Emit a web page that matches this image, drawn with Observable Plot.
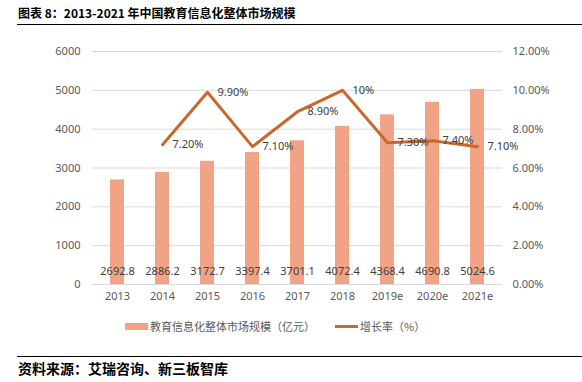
<!DOCTYPE html>
<html>
<head>
<meta charset="utf-8">
<script src="https://cdn.jsdelivr.net/npm/d3@7"></script>
<script src="https://cdn.jsdelivr.net/npm/@observablehq/plot@0.6"></script>
<style>
  body { margin: 0; background: #fff; width: 582px; height: 382px; overflow: hidden; position: relative; font-family: "Noto Sans CJK SC", "Noto Sans", sans-serif; }
  #title { position: absolute; left: 18px; top: 4px; font-size: 12px; font-weight: bold; color: #000; white-space: nowrap; }
  #rule1 { position: absolute; left: 17px; top: 24px; width: 565px; height: 0; border-top: 1.5px solid #000; }
  #chart { position: absolute; left: 0; top: 30px; }
  #legend { position: absolute; left: 0; top: 318px; width: 582px; font-size: 11px; color: #595959; }
  .sw { position: absolute; }
  .lt { position: absolute; white-space: nowrap; top: 0; }
  #rule2 { position: absolute; left: 17px; top: 356px; width: 565px; height: 0; border-top: 1.5px solid #000; }
  #source { position: absolute; left: 18px; top: 358px; font-size: 14px; font-weight: bold; color: #000; white-space: nowrap; }
</style>
</head>
<body>
<div id="title">图表 8：2013-2021 年中国教育信息化整体市场规模</div>
<div id="rule1"></div>
<div id="chart"></div>
<div id="legend">
  <div class="sw" style="left:125px; top:5px; width:23px; height:7px; background:#F0A385;"></div>
  <div class="lt" style="left:150px;">教育信息化整体市场规模（亿元）</div>
  <div class="sw" style="left:335px; top:7px; width:23px; height:3px; background:#C8682C;"></div>
  <div class="lt" style="left:360px;">增长率（%）</div>
</div>
<div id="rule2"></div>
<div id="source">资料来源：艾瑞咨询、新三板智库</div>
<script>
const years = ["2013", "2014", "2015", "2016", "2017", "2018", "2019e", "2020e", "2021e"];
const marketSize = [2692.8, 2886.2, 3172.7, 3397.4, 3701.1, 4072.4, 4368.4, 4690.8, 5024.6];
const growthRate = [null, 7.2, 9.9, 7.1, 8.9, 10, 7.3, 7.4, 7.1];
const growthLabels = ["", "7.20%", "9.90%", "7.10%", "8.90%", "10%", "7.30%", "7.40%", "7.10%"];
const leftTicks = [0, 1000, 2000, 3000, 4000, 5000, 6000];
const rightTickLabels = ["0.00%", "2.00%", "4.00%", "6.00%", "8.00%", "10.00%", "12.00%"];

// secondary axis: 12% maps onto 6000
const pctToY = 6000 / 12;

const bars = years.map((y, i) => ({year: y, value: marketSize[i]}));
const line = years.map((y, i) => ({year: y, rate: growthRate[i], label: growthLabels[i]})).filter(d => d.rate != null);

const font = "'Noto Sans', 'Noto Sans CJK SC', sans-serif";

const plot = Plot.plot({
  width: 582,
  height: 280,
  marginTop: 21,
  marginBottom: 26,
  marginLeft: 92,
  marginRight: 80,
  style: {fontFamily: font, fontSize: "11px", color: "#595959", background: "transparent"},
  x: {domain: years, paddingInner: 0.69, paddingOuter: 0.345, label: null},
  y: {domain: [0, 6000], label: null},
  marks: [
    Plot.gridY(leftTicks, {stroke: "#d9d9d9", strokeOpacity: 1, strokeWidth: 1}),
    Plot.axisY(leftTicks, {anchor: "left", tickSize: 0, tickPadding: 12, fill: "#595959", fontSize: 11, label: null,
      tickFormat: d => String(d)}),
    Plot.axisY(leftTicks, {anchor: "right", tickSize: 0, tickPadding: 10, fill: "#595959", fontSize: 11, label: null,
      tickFormat: d => rightTickLabels[leftTicks.indexOf(d)]}),
    Plot.axisX({tickSize: 0, tickPadding: 8, fill: "#595959", fontSize: 11, label: null}),
    Plot.barY(bars, {x: "year", y: "value", fill: "#F0A385"}),
    Plot.text(bars, {x: "year", y: 0, text: d => d.value.toFixed(1), dy: -13, fill: "#404040", fontSize: 11}),
    Plot.line(line, {x: "year", y: d => d.rate * pctToY, stroke: "#C8682C", strokeWidth: 3, strokeLinejoin: "round", strokeLinecap: "round"}),
    Plot.text(line, {x: "year", y: d => d.rate * pctToY, text: "label", dx: 10, textAnchor: "start", fill: "#404040", fontSize: 11})
  ]
});
document.getElementById("chart").appendChild(plot);
</script>
</body>
</html>
